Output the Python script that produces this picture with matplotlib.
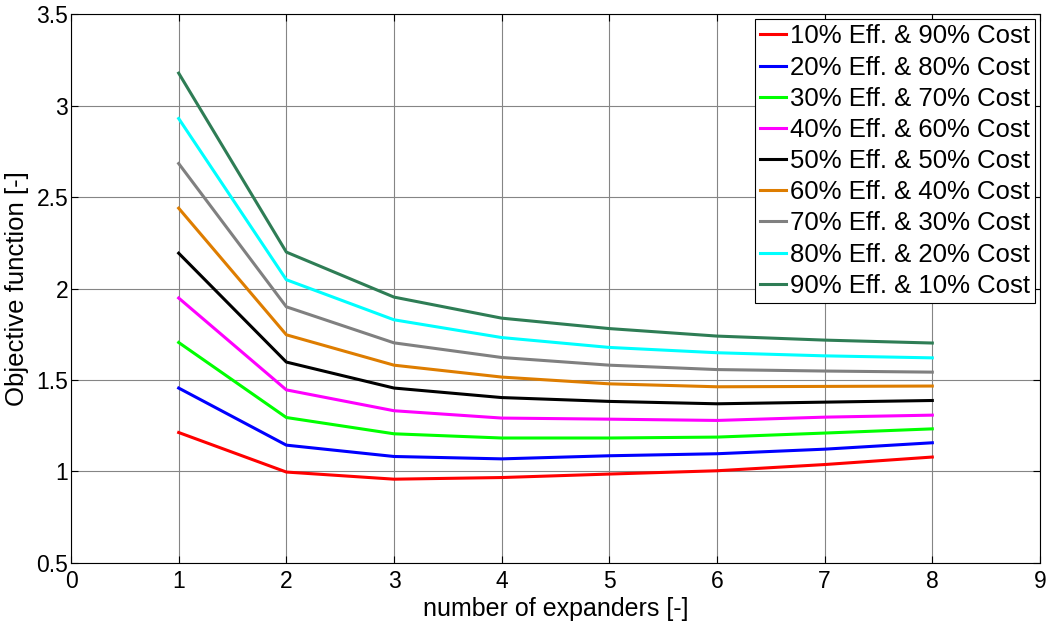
import matplotlib.pyplot as plt
import numpy as np

plt.rcParams["font.family"] = ["Liberation Sans", "DejaVu Sans"]

n_expanders = [1, 2, 3, 4, 5, 6, 7, 8]

labels = [
    "10% Eff. & 90% Cost",
    "20% Eff. & 80% Cost",
    "30% Eff. & 70% Cost",
    "40% Eff. & 60% Cost",
    "50% Eff. & 50% Cost",
    "60% Eff. & 40% Cost",
    "70% Eff. & 30% Cost",
    "80% Eff. & 20% Cost",
    "90% Eff. & 10% Cost",
]

eff10 = [1.213, 0.997, 0.958, 0.967, 0.986, 1.004, 1.038, 1.079]
eff20 = [1.456, 1.144, 1.082, 1.069, 1.086, 1.097, 1.122, 1.157]
eff30 = [1.705, 1.295, 1.206, 1.183, 1.183, 1.188, 1.210, 1.233]
eff40 = [1.948, 1.446, 1.332, 1.292, 1.286, 1.279, 1.297, 1.308]
eff50 = [2.193, 1.598, 1.456, 1.404, 1.383, 1.370, 1.379, 1.388]
eff60 = [2.439, 1.747, 1.581, 1.516, 1.479, 1.463, 1.465, 1.467]
eff70 = [2.683, 1.900, 1.703, 1.623, 1.581, 1.557, 1.549, 1.543]
eff80 = [2.929, 2.048, 1.829, 1.732, 1.678, 1.649, 1.632, 1.621]
eff90 = [3.177, 2.199, 1.953, 1.838, 1.781, 1.740, 1.718, 1.702]

series = [eff10, eff20, eff30, eff40, eff50, eff60, eff70, eff80, eff90]
colors = ["#ff0000", "#0000ff", "#00ff00", "#ff00ff", "#000000",
          "#de7d00", "#808080", "#00ffff", "#2e7d55"]

fig = plt.figure(figsize=(10.49, 6.32), dpi=100)
ax = fig.add_axes([0.0677, 0.1092, 0.9237, 0.8686])

for y, c, lab in zip(series, colors, labels):
    ax.plot(n_expanders, y, color=c, linewidth=2.2, label=lab)

ax.set_xlim(0, 9)
ax.set_ylim(0.5, 3.5)
xt = np.arange(0, 10)
yt = np.arange(0.5, 3.51, 0.5)
ax.set_xticks(xt)
ax.set_xticklabels([f"{v:g}" for v in xt])
ax.set_yticks(yt)
ax.set_yticklabels([f"{v:g}" for v in yt])
ax.tick_params(direction="in", top=True, right=True, labelsize=16.5,
               length=5, width=0.8)
ax.tick_params(axis="y", pad=2)
ax.tick_params(axis="x", pad=5)
ax.grid(True, color="#858585", linewidth=0.8)
for s in ax.spines.values():
    s.set_linewidth(0.8)

ax.set_xlabel("number of expanders [-]", fontsize=18, labelpad=3)
ax.set_ylabel("Objective function [-]", fontsize=18.5, labelpad=5)

leg = ax.legend(loc="upper right", fontsize=18.5, fancybox=False, framealpha=1,
                edgecolor="black", handlelength=1.0, handletextpad=0.15,
                labelspacing=0.28, borderpad=0.2, borderaxespad=0.2)
leg.get_frame().set_linewidth(0.8)

fig.savefig("out.png", dpi=100)
